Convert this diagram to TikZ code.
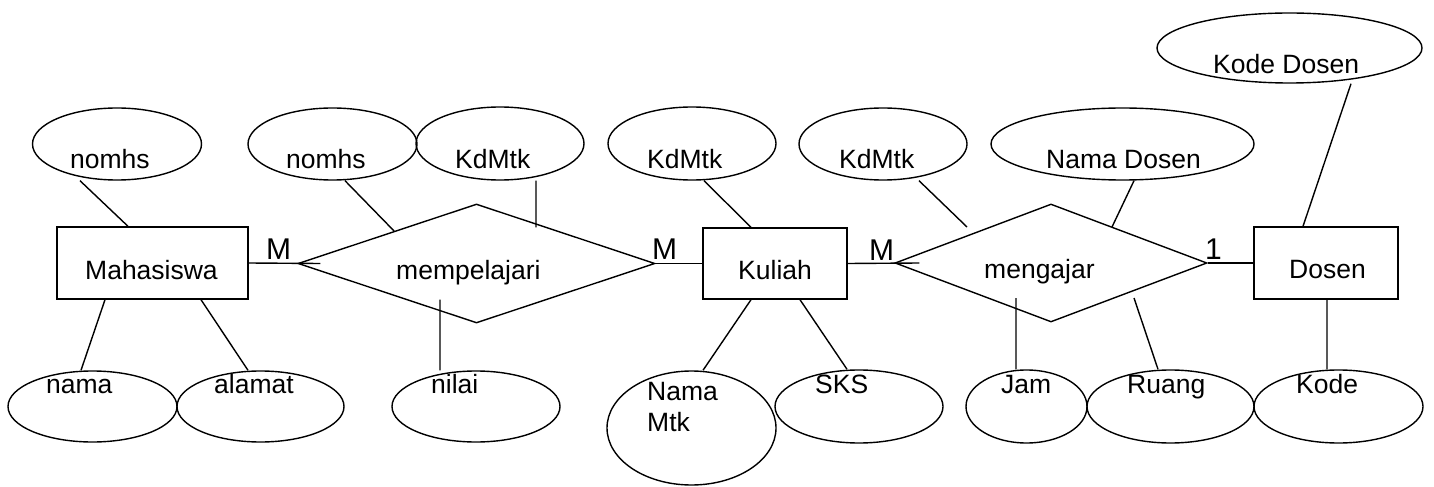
\documentclass[tikz,border=0pt]{standalone}
\usepackage{fontspec}
\setmainfont{Liberation Sans}
\usetikzlibrary{shapes.geometric,calc}
\tikzset{
  ln/.style={line width=1.4bp, draw=black},
  ent/.style={ln, rectangle, inner sep=0pt},
  rel/.style={ln, diamond, inner sep=0pt},
  attr/.style={ln, ellipse, inner sep=0pt},
  big/.style={font=\fontsize{26.5bp}{31bp}\selectfont},
  card/.style={font=\fontsize{30bp}{34bp}\selectfont},
  lbl/.style={inner sep=0pt, anchor=base west},
}
\begin{document}
\begin{tikzpicture}[x=1bp,y=-1bp]
\useasboundingbox (0,0) rectangle (1434,487);
% entities
\node[ent, minimum width=191bp, minimum height=72bp] (mhs) at (152.5,263) {};
\node[ent, minimum width=144bp, minimum height=71bp] (kul) at (775,263.5) {};
\node[ent, minimum width=144bp, minimum height=72bp] (dos) at (1326,263) {};
% relationships
\node[rel, minimum width=357bp, minimum height=119bp] (mpl) at (476.5,263.5) {};
\node[rel, minimum width=312bp, minimum height=118bp] (mgj) at (1051,263) {};
% attributes
\node[attr, minimum width=169bp, minimum height=72bp] (a1) at (117,144) {};
\node[attr, minimum width=169bp, minimum height=71bp] (a2) at (92.5,406.5) {};
\node[attr, minimum width=167bp, minimum height=71bp] (a3) at (260.5,406.5) {};
\node[attr, minimum width=169bp, minimum height=72bp] (a4) at (332.5,144) {};
\node[attr, minimum width=168bp, minimum height=73bp] (a5) at (500,143.5) {};
\node[attr, minimum width=168bp, minimum height=71bp] (a6) at (476,406.5) {};
\node[attr, minimum width=168bp, minimum height=73bp] (a7) at (692,143.5) {};
\node[attr, minimum width=169bp, minimum height=114bp] (a8) at (691.5,428) {};
\node[attr, minimum width=168bp, minimum height=73bp] (a9) at (859,406.5) {};
\node[attr, minimum width=168bp, minimum height=72bp] (a10) at (883,144) {};
\node[attr, minimum width=263bp, minimum height=72bp] (a11) at (1122.5,144) {};
\node[attr, minimum width=265bp, minimum height=70bp] (a12) at (1289.5,48) {};
\node[attr, minimum width=121bp, minimum height=73bp] (a13) at (1026.5,406.5) {};
\node[attr, minimum width=167bp, minimum height=73bp] (a14) at (1170.5,406.5) {};
\node[attr, minimum width=169bp, minimum height=73bp] (a15) at (1338.5,406.5) {};
% texts
\node[lbl, big] (t-mhs) at (85,280) {Mahasiswa};
\node[lbl, big] (t-mpl) at (396,280) {mempelajari};
\node[lbl, big] (t-kul) at (738,280) {Kuliah};
\node[lbl, big] (t-mgj) at (984,279) {mengajar};
\node[lbl, big] (t-dos) at (1289,279) {Dosen};
\node[lbl, big] (t1) at (70,169) {nomhs};
\node[lbl, big] (t2) at (46,393) {nama};
\node[lbl, big] (t3) at (214,393) {alamat};
\node[lbl, big] (t4) at (286,169) {nomhs};
\node[lbl, big] (t5) at (455,169) {KdMtk};
\node[lbl, big] (t6) at (431,393) {nilai};
\node[lbl, big] (t7) at (647,169) {KdMtk};
\node[lbl, big] (t8a) at (647,400) {Nama};
\node[lbl, big] (t8b) at (647,431) {Mtk};
\node[lbl, big] (t9) at (815,393) {SKS};
\node[lbl, big] (t10) at (839,169) {KdMtk};
\node[lbl, big] (t11) at (1046,169) {Nama Dosen};
\node[lbl, big] (t12) at (1213,74) {Kode Dosen};
\node[lbl, big] (t13) at (1001,393) {Jam};
\node[lbl, big] (t14) at (1127,393) {Ruang};
\node[lbl, big] (t15) at (1296,393) {Kode};
% cardinalities
\node[lbl, card] (c1) at (266,260) {M};
\node[lbl, card] (c2) at (652,260) {M};
\node[lbl, card] (c3) at (869,261) {M};
\node[lbl, card] (c4) at (1205,260) {1};
% connectors
\draw[ln] ([xshift=-37bp]a1.south) -- ([xshift=-24.5bp]mhs.north);
\draw[ln] ([xshift=-47.5bp]mhs.south) -- ([xshift=-11.5bp]a2.north);
\draw[ln] ([xshift=48.5bp]mhs.south) -- ([xshift=-12.5bp]a3.north);
\draw[ln] (mhs.east) -- ([xshift=23bp]mpl.west);
\draw[ln] ([xshift=12.5bp]a4.south) -- ($(mpl.west)!0.54!(mpl.north)$);
\draw[ln] ([xshift=36bp]a5.south) -- ([xshift=59.5bp,yshift=36bp]mpl.center);
\draw[ln] ([xshift=-36.5bp,yshift=-36bp]mpl.center) -- ([xshift=-36bp]a6.north);
\draw[ln] (mpl.east) -- (kul.west);
\draw[ln] ([xshift=12bp]a7.south) -- ([xshift=-24bp]kul.north);
\draw[ln] ([xshift=-24bp]kul.south) -- ([xshift=11.5bp]a8.north);
\draw[ln] ([xshift=25bp]kul.south) -- ([xshift=-12bp]a9.north);
\draw[ln] (kul.east) -- ([xshift=25bp]mgj.west);
\draw[ln] ([xshift=36bp]a10.south) -- ([xshift=-84bp,yshift=36bp]mgj.center);
\draw[ln] ([xshift=11.5bp]a11.south) -- ([xshift=61bp,yshift=36bp]mgj.center);
\draw[ln] (mgj.east) -- (dos.west);
\draw[ln] ([xshift=61.5bp]a12.south) -- ([xshift=-23bp]dos.north);
\draw[ln] ([xshift=-35bp,yshift=-35bp]mgj.center) -- ([xshift=-10.5bp]a13.north);
\draw[ln] ([xshift=83bp,yshift=-35bp]mgj.center) -- ([xshift=-12.5bp]a14.north);
\draw[ln] ([xshift=1bp]dos.south) -- ([xshift=-11.5bp]a15.north);
\end{tikzpicture}
\end{document}
